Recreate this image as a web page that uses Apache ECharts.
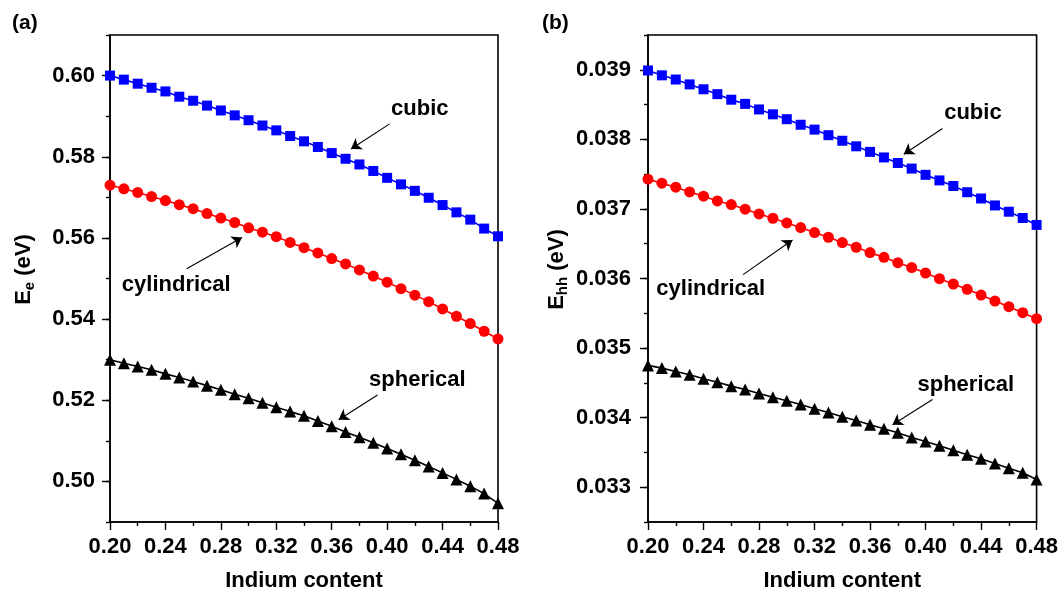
<!DOCTYPE html>
<html>
<head>
<meta charset="utf-8">
<script src="https://cdn.jsdelivr.net/npm/echarts@6/dist/echarts.min.js"></script>
<style>
  html, body { margin: 0; padding: 0; background: #fff; }
  #chart { width: 1061px; height: 597px; }
</style>
</head>
<body>
<div id="chart"></div>
<script>
// indium content (x values)
var indium = [0.20, 0.21, 0.22, 0.23, 0.24, 0.25, 0.26, 0.27, 0.28, 0.29,
              0.30, 0.31, 0.32, 0.33, 0.34, 0.35, 0.36, 0.37, 0.38, 0.39,
              0.40, 0.41, 0.42, 0.43, 0.44, 0.45, 0.46, 0.47, 0.48];

// (a) electron energy Ee (eV)
var eeCubic = [0.6000, 0.5990, 0.5980, 0.5970, 0.5961, 0.5948, 0.5938, 0.5926, 0.5914, 0.5902,
               0.5890, 0.5877, 0.5865, 0.5851, 0.5838, 0.5824, 0.5809, 0.5795, 0.5781, 0.5765,
               0.5748, 0.5732, 0.5716, 0.5699, 0.5681, 0.5663, 0.5645, 0.5623, 0.5604];
var eeCyl = [0.5730, 0.5721, 0.5712, 0.5702, 0.5692, 0.5682, 0.5672, 0.5660, 0.5649, 0.5638,
             0.5625, 0.5614, 0.5603, 0.5589, 0.5576, 0.5563, 0.5549, 0.5536, 0.5521, 0.5506,
             0.5491, 0.5475, 0.5459, 0.5443, 0.5425, 0.5407, 0.5389, 0.5370, 0.5351];
var eeSph = [0.5300, 0.5291, 0.5283, 0.5275, 0.5265, 0.5256, 0.5246, 0.5236, 0.5226, 0.5215,
             0.5205, 0.5194, 0.5183, 0.5172, 0.5162, 0.5149, 0.5136, 0.5122, 0.5109, 0.5095,
             0.5081, 0.5067, 0.5052, 0.5037, 0.5021, 0.5005, 0.4988, 0.4970, 0.4946];

// (b) heavy hole energy Ehh (eV)
var ehhCubic = [0.03899, 0.03892, 0.03886, 0.03879, 0.03872, 0.03865, 0.03857, 0.03851, 0.03843, 0.03836,
                0.03829, 0.03821, 0.03814, 0.03806, 0.03798, 0.03790, 0.03782, 0.03774, 0.03766, 0.03758,
                0.03749, 0.03741, 0.03733, 0.03724, 0.03715, 0.03705, 0.03696, 0.03687, 0.03677];
var ehhCyl = [0.037427, 0.037370, 0.037312, 0.037244, 0.037183, 0.037115, 0.037063, 0.036996, 0.036928, 0.036866,
              0.036798, 0.036732, 0.036660, 0.036593, 0.036516, 0.036449, 0.036372, 0.036305, 0.036228, 0.036157,
              0.036079, 0.035998, 0.035921, 0.035844, 0.035762, 0.035676, 0.035595, 0.035509, 0.035423];
var ehhSph = [0.034751, 0.034712, 0.034664, 0.034617, 0.034559, 0.034510, 0.034453, 0.034405, 0.034348, 0.034294,
              0.034243, 0.034189, 0.034128, 0.034074, 0.034012, 0.033959, 0.033897, 0.033840, 0.033782, 0.033715,
              0.033657, 0.033595, 0.033532, 0.033466, 0.033408, 0.033340, 0.033273, 0.033207, 0.033110];

// tick labels
var xTicks = [0.20, 0.24, 0.28, 0.32, 0.36, 0.40, 0.44, 0.48];
var yTicksA = [0.50, 0.52, 0.54, 0.56, 0.58, 0.60];
var yTicksB = [0.033, 0.034, 0.035, 0.036, 0.037, 0.038, 0.039];

// annotations: [text, textX, textY, arrowFromX, arrowFromY, arrowToX, arrowToY]
var notesA = [
  ['cubic', 0.4236, 0.5919, 0.4018, 0.5881, 0.3739, 0.5819],
  ['cylindrical', 0.2478, 0.5485, 0.2553, 0.5524, 0.2953, 0.5601],
  ['spherical', 0.4218, 0.5250, 0.3931, 0.5213, 0.3650, 0.5152]
];
var notesB = [
  ['cubic', 0.4341, 0.038377, 0.4122, 0.038157, 0.3843, 0.037787],
  ['cylindrical', 0.2452, 0.035844, 0.2685, 0.036056, 0.3041, 0.036554],
  ['spherical', 0.4290, 0.034477, 0.4050, 0.034261, 0.3762, 0.033897]
];

var FONT = 'Arial, "Liberation Sans", sans-serif';

function pairs(ys) {
  return indium.map(function(x, i) { return [x, ys[i]]; });
}

function lineSeries(ys, color, symbol, size, xi, yi, note) {
  return {
    type: 'line',
    xAxisIndex: xi,
    yAxisIndex: yi,
    data: pairs(ys),
    symbol: symbol,
    symbolSize: size,
    showSymbol: true,
    lineStyle: { color: color, width: 1.6 },
    itemStyle: { color: color },
    emphasis: { disabled: true },
    silent: true,
    z: 3,
    markLine: {
      silent: true,
      symbol: ['none', 'arrow'],
      symbolSize: 10,
      label: { show: false },
      itemStyle: { color: '#000' },
      lineStyle: { color: '#000', width: 1.1, type: 'solid' },
      emphasis: { disabled: true },
      data: [[{ coord: [note[3], note[4]] }, { coord: [note[5], note[6]] }]]
    },
    markPoint: {
      silent: true,
      symbol: 'circle',
      symbolSize: 1,
      itemStyle: { color: 'rgba(0,0,0,0)' },
      label: {
        show: true,
        position: 'inside',
        color: '#000',
        fontFamily: FONT,
        fontWeight: 'bold',
        fontSize: 22,
        formatter: note[0]
      },
      data: [{ coord: [note[1], note[2]] }]
    }
  };
}

function xAxisFor(gi) {
  return {
    type: 'value',
    gridIndex: gi,
    min: 0.20,
    max: 0.48,
    interval: 0.04,
    name: 'Indium content',
    nameLocation: 'middle',
    nameGap: 48,
    nameTextStyle: { fontFamily: FONT, fontWeight: 'bold', fontSize: 22, color: '#000' },
    axisLine: { lineStyle: { color: '#000', width: 1.6 } },
    axisTick: { length: 8, lineStyle: { color: '#000', width: 1.4 } },
    minorTick: { show: true, splitNumber: 2, length: 4, lineStyle: { color: '#000', width: 1.4 } },
    splitLine: { show: false },
    axisLabel: {
      margin: 14,
      color: '#000',
      fontFamily: FONT,
      fontWeight: 'bold',
      fontSize: 22,
      formatter: function(v) { return v.toFixed(2); }
    }
  };
}

function yMain(gi, min, max, step, ticks, digits, name, gap, labelGap) {
  return {
    type: 'value',
    gridIndex: gi,
    position: 'left',
    min: min,
    max: max,
    interval: step,
    name: name,
    nameLocation: 'middle',
    nameRotate: 90,
    nameGap: gap,
    nameTextStyle: {
      rich: {
        p: { fontSize: 21, width: 18 },
        b: { fontFamily: FONT, fontWeight: 'bold', fontSize: 22, color: '#000' },
        s: { fontFamily: FONT, fontWeight: 'bold', fontSize: 15, color: '#000', padding: [12, 0, 0, 0] }
      }
    },
    axisLine: { lineStyle: { color: '#000', width: 1.6 } },
    axisTick: { customValues: ticks, length: 8, lineStyle: { color: '#000', width: 1.4 } },
    splitLine: { show: false },
    axisLabel: {
      customValues: ticks,
      margin: labelGap,
      color: '#000',
      fontFamily: FONT,
      fontWeight: 'bold',
      fontSize: 22,
      formatter: function(v) { return v.toFixed(digits); }
    }
  };
}

function yMinor(gi, min, max, step) {
  return {
    type: 'value',
    gridIndex: gi,
    position: 'left',
    offset: 0,
    min: min,
    max: max,
    interval: step,
    axisLine: { show: false },
    axisTick: { length: 4, lineStyle: { color: '#000', width: 1.4 } },
    axisLabel: { show: false },
    splitLine: { show: false }
  };
}

var chart = echarts.init(document.getElementById('chart'), null, { renderer: 'canvas' });

var option = {
  animation: false,
  backgroundColor: '#fff',
  title: [
    { text: '(a)', left: 7, top: 8, textStyle: { fontFamily: FONT, fontWeight: 'bold', fontSize: 21, color: '#000' } },
    { text: '(b)', left: 537, top: 8, textStyle: { fontFamily: FONT, fontWeight: 'bold', fontSize: 21, color: '#000' } }
  ],
  grid: [
    { left: 110, top: 35, width: 388, height: 488, show: true, borderColor: '#000', borderWidth: 1.6 },
    { left: 648, top: 35, width: 389, height: 488, show: true, borderColor: '#000', borderWidth: 1.6 }
  ],
  xAxis: [xAxisFor(0), xAxisFor(1)],
  yAxis: [
    yMain(0, 0.49, 0.61, 0.01, yTicksA, 2, '{p|}{b|E}{s|e}{b| (eV)}', 73, 15),
    yMinor(0, 0.49, 0.61, 0.01),
    yMain(1, 0.0325, 0.0395, 0.0005, yTicksB, 3, '{p|}{b|E}{s|hh}{b| (eV)}', 78, 17),
    yMinor(1, 0.0325, 0.0395, 0.0005)
  ],
  series: [
    lineSeries(eeCubic, '#0000ff', 'rect', 10, 0, 0, notesA[0]),
    lineSeries(eeCyl, '#ff0000', 'circle', 11, 0, 0, notesA[1]),
    lineSeries(eeSph, '#000000', 'triangle', 12, 0, 0, notesA[2]),
    lineSeries(ehhCubic, '#0000ff', 'rect', 10, 1, 2, notesB[0]),
    lineSeries(ehhCyl, '#ff0000', 'circle', 11, 1, 2, notesB[1]),
    lineSeries(ehhSph, '#000000', 'triangle', 12, 1, 2, notesB[2])
  ]
};

chart.setOption(option);
</script>
</body>
</html>
